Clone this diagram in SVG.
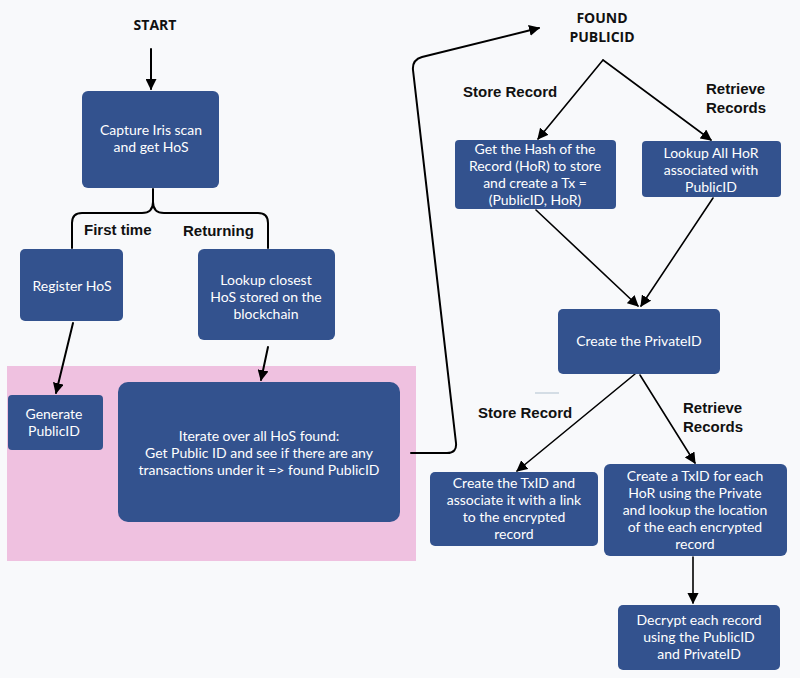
<svg xmlns="http://www.w3.org/2000/svg" width="800" height="678" viewBox="0 0 800 678">
  <defs>
    <style>
      .box { fill: #33528e; }
      .bt { font-family: Lato, "Open Sans", sans-serif; font-size: 14px; fill: #ffffff; text-anchor: middle; }
      .lbl { font-family: "Liberation Sans", Arial, sans-serif; font-size: 15px; font-weight: bold; fill: #111111; }
      .hd { font-family: "Open Sans", "Noto Sans", sans-serif; font-size: 14px; font-weight: bold; fill: #111111; text-anchor: middle; }
      .ln { fill: none; stroke: #000000; stroke-width: 2; stroke-linecap: round; stroke-linejoin: round; }
      .lnt { fill: none; stroke: #000000; stroke-width: 1.6; stroke-linecap: round; }
    </style>
    <marker id="ah" viewBox="0 0 10 10" refX="9" refY="5" markerWidth="5.5" markerHeight="5.5" orient="auto" markerUnits="strokeWidth">
      <path d="M0,0 L10,5 L0,10 z" fill="#000000"/>
    </marker>
    <marker id="ahs" viewBox="0 0 10 10" refX="9" refY="5" markerWidth="7" markerHeight="7" orient="auto" markerUnits="strokeWidth">
      <path d="M0,0 L10,5 L0,10 z" fill="#000000"/>
    </marker>
  </defs>

  <rect width="800" height="678" fill="#f8f9fb"/>

  <!-- highlighted area around the returning-user lookup -->
  <rect x="7" y="366" width="409" height="195" fill="#efc1e0"/>

  <text class="hd" x="155" y="30">START</text>
  <text class="hd" x="602" y="23">FOUND</text>
  <text class="hd" x="602" y="42">PUBLICID</text>

  <g id="connectors">
    <line class="ln" x1="151" y1="49" x2="151" y2="89" marker-end="url(#ah)"/>
    <!-- branch bracket -->
    <path class="ln" d="M153,189 V202 Q153,213 142,213 H82 Q72,213 72,223 V248"/>
    <path class="ln" d="M153,202 Q153,213 164,213 H258 Q268,213 268,223 V248"/>
    <line class="ln" x1="73" y1="323" x2="56" y2="393" marker-end="url(#ah)"/>
    <line class="ln" x1="268" y1="347" x2="261" y2="380" marker-end="url(#ah)"/>
    <path class="ln" d="M411,453 H447 Q457,453 456,443 L413,70 Q412,60 422,57 L539,28" marker-end="url(#ah)"/>
    <line class="lnt" x1="603" y1="60" x2="538" y2="139" marker-end="url(#ahs)"/>
    <line class="lnt" x1="603" y1="60" x2="711" y2="140" marker-end="url(#ahs)"/>
    <line class="lnt" x1="536" y1="210" x2="638" y2="306" marker-end="url(#ahs)"/>
    <line class="lnt" x1="713" y1="198" x2="641" y2="306" marker-end="url(#ahs)"/>
    <line class="lnt" x1="635" y1="374" x2="517" y2="471" marker-end="url(#ahs)"/>
    <line class="lnt" x1="640" y1="375" x2="695" y2="463" marker-end="url(#ahs)"/>
    <line class="lnt" x1="693" y1="557" x2="693" y2="603" marker-end="url(#ahs)"/>
    <line x1="535" y1="393" x2="559" y2="393" stroke="#c9d3de" stroke-width="1.5"/>
  </g>

  <text class="lbl" x="84" y="235">First time</text>
  <text class="lbl" x="183" y="236">Returning</text>
  <text class="lbl" x="463" y="97">Store Record</text>
  <text class="lbl" x="706" y="94">Retrieve</text>
  <text class="lbl" x="706" y="113">Records</text>
  <text class="lbl" x="478" y="418">Store Record</text>
  <text class="lbl" x="683" y="413">Retrieve</text>
  <text class="lbl" x="683" y="432">Records</text>

  <g id="capture">
    <rect class="box" x="82" y="91" width="137" height="97" rx="6"/>
    <text class="bt" x="151" y="135">Capture Iris scan</text>
    <text class="bt" x="151" y="152">and get HoS</text>
  </g>
  <g id="register">
    <rect class="box" x="20" y="249" width="103" height="72" rx="5"/>
    <text class="bt" x="72" y="291">Register HoS</text>
  </g>
  <g id="lookup-closest">
    <rect class="box" x="198" y="249" width="137" height="91" rx="6"/>
    <text class="bt" x="266" y="285">Lookup closest</text>
    <text class="bt" x="266" y="302">HoS stored on the</text>
    <text class="bt" x="266" y="319">blockchain</text>
  </g>
  <g id="generate">
    <rect class="box" x="8" y="395" width="95" height="55" rx="4"/>
    <text class="bt" x="54" y="419">Generate</text>
    <text class="bt" x="54" y="436">PublicID</text>
  </g>
  <g id="iterate">
    <rect class="box" x="118" y="382" width="282" height="140" rx="10"/>
    <text class="bt" x="259" y="441">Iterate over all HoS found:</text>
    <text class="bt" x="259" y="458">Get Public ID and see if there are any</text>
    <text class="bt" x="259" y="475">transactions under it =&gt; found PublicID</text>
  </g>
  <g id="hash-record">
    <rect class="box" x="455" y="140" width="161" height="69" rx="4"/>
    <text class="bt" x="535" y="154">Get the Hash of the</text>
    <text class="bt" x="535" y="171">Record (HoR) to store</text>
    <text class="bt" x="535" y="188">and create a Tx =</text>
    <text class="bt" x="535" y="205">(PublicID, HoR)</text>
  </g>
  <g id="lookup-hor">
    <rect class="box" x="642" y="141" width="139" height="56" rx="4"/>
    <text class="bt" x="711" y="158">Lookup All HoR</text>
    <text class="bt" x="711" y="175">associated with</text>
    <text class="bt" x="711" y="192">PublicID</text>
  </g>
  <g id="private-id">
    <rect class="box" x="558" y="309" width="162" height="65" rx="5"/>
    <text class="bt" x="639" y="346">Create the PrivateID</text>
  </g>
  <g id="create-txid">
    <rect class="box" x="430" y="472" width="168" height="74" rx="5"/>
    <text class="bt" x="514" y="488">Create the TxID and</text>
    <text class="bt" x="514" y="505">associate it with a link</text>
    <text class="bt" x="514" y="522">to the encrypted</text>
    <text class="bt" x="514" y="539">record</text>
  </g>
  <g id="txid-each">
    <rect class="box" x="604" y="464" width="183" height="92" rx="6"/>
    <text class="bt" x="695" y="481">Create a TxID for each</text>
    <text class="bt" x="695" y="498">HoR using the Private</text>
    <text class="bt" x="695" y="515">and lookup the location</text>
    <text class="bt" x="695" y="532">of the each encrypted</text>
    <text class="bt" x="695" y="549">record</text>
  </g>
  <g id="decrypt">
    <rect class="box" x="618" y="605" width="162" height="65" rx="5"/>
    <text class="bt" x="699" y="625">Decrypt each record</text>
    <text class="bt" x="699" y="642">using the PublicID</text>
    <text class="bt" x="699" y="659">and PrivateID</text>
  </g>
</svg>
